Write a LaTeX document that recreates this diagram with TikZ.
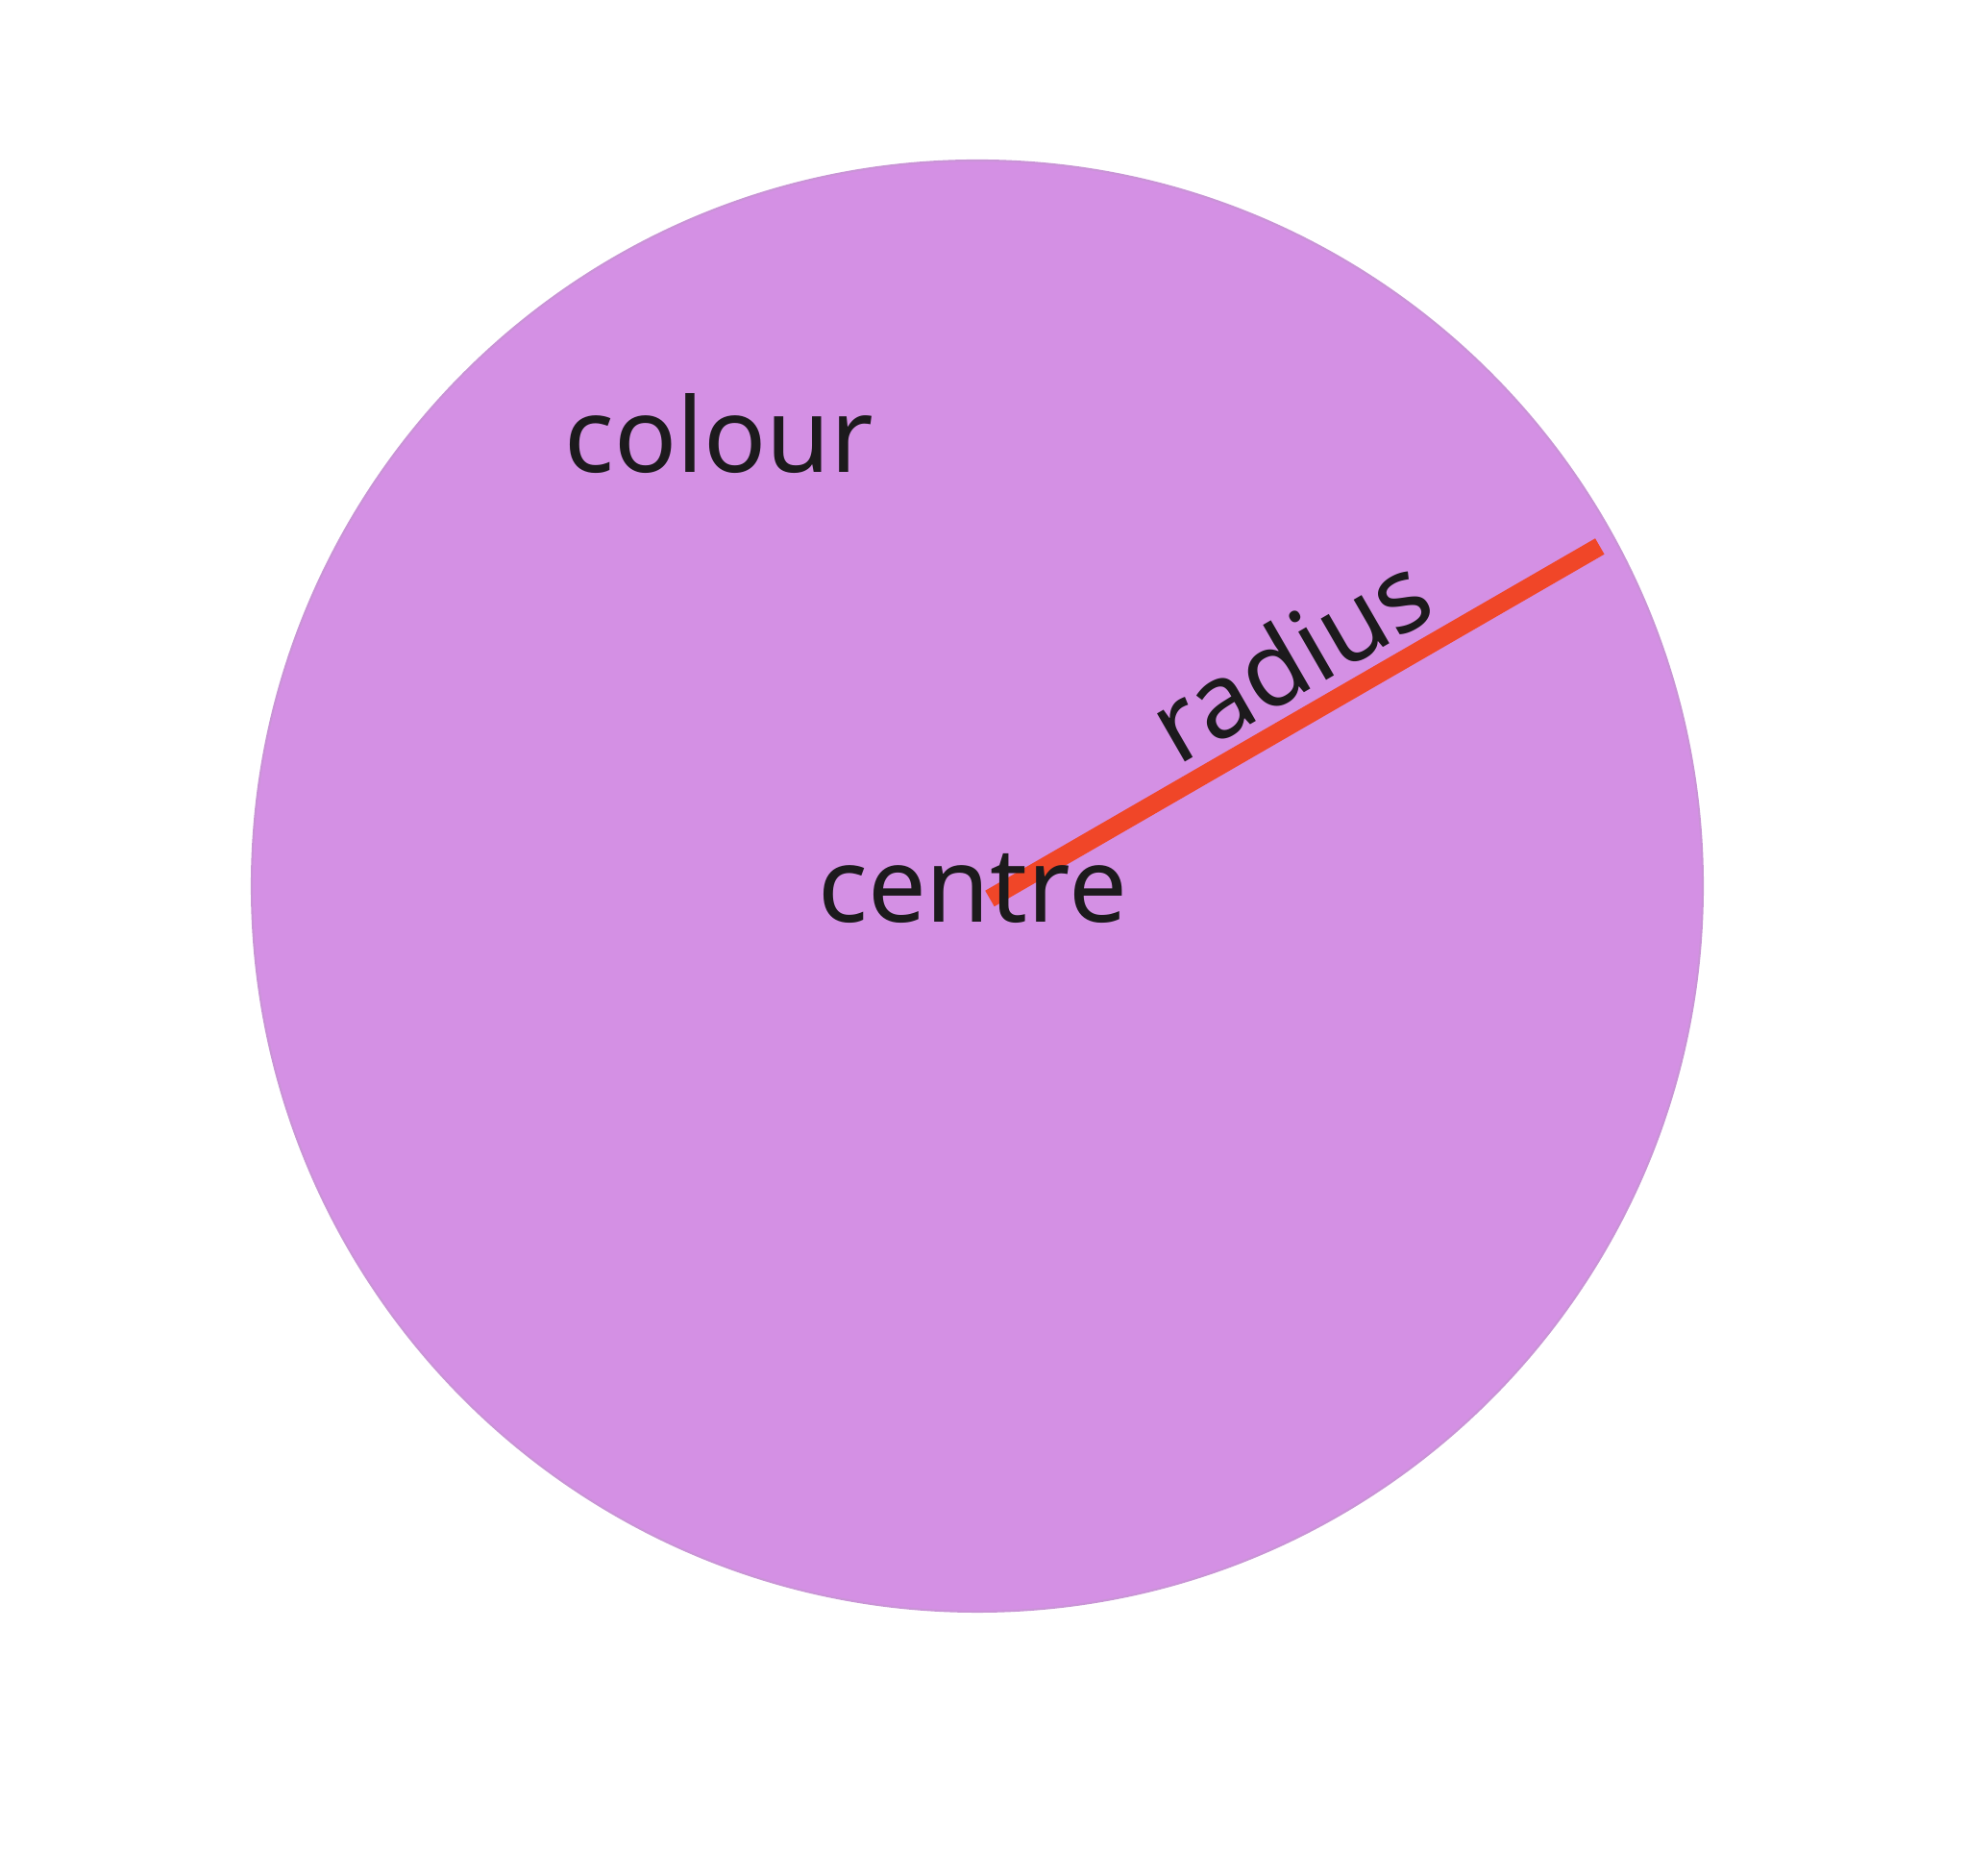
\documentclass[tikz,border=0pt]{standalone}
\usepackage{fontspec}
\setmainfont{Noto Sans}
\usetikzlibrary{calc}
\definecolor{disc}{HTML}{D490E4}
\definecolor{discedge}{HTML}{C994D6}
\definecolor{rad}{HTML}{F04628}
\definecolor{ink}{HTML}{1C1A1C}
\begin{document}
\begin{tikzpicture}[
    lbl/.style={text=ink, font=\fontsize{30.7}{36}\selectfont},
  ]
  \useasboundingbox (0,0) rectangle (20.48,19.52);
  \filldraw[fill=disc, draw=discedge, line width=0.6pt] (10.17,10.30) circle (7.55);
  \coordinate (ctr) at (10.30,10.17);
  \coordinate (rim) at ($(ctr)+(30:7.33)$);
  \draw[rad, line width=0.19cm] (ctr) -- (rim);
  \node[lbl, inner sep=0pt] (radius) at ($(ctr)!0.54!(rim)+(120:0.62)$) {\rotatebox{30}{radius}};
  \node[lbl, anchor=base] (colour) at (7.48,14.60) {colour};
  \node[lbl, anchor=base] (centre) at (10.12,9.92) {centre};
\end{tikzpicture}
\end{document}
